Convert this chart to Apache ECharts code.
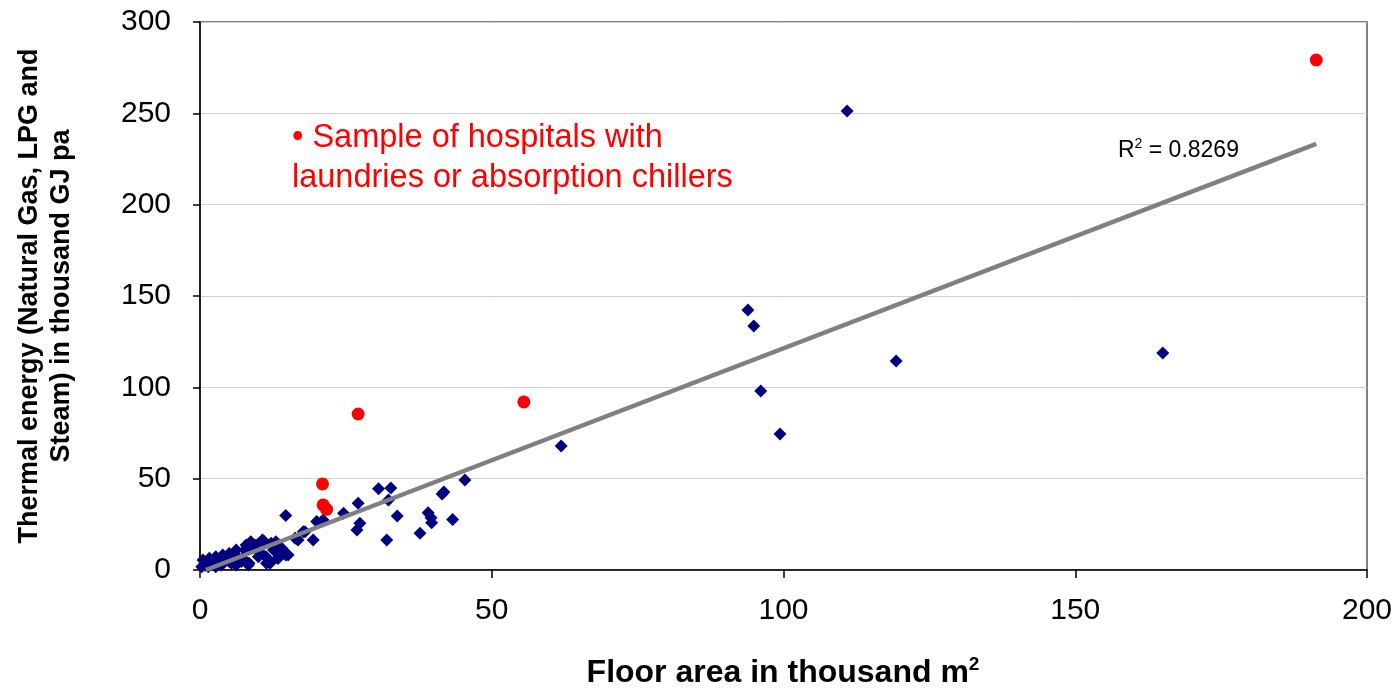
<!DOCTYPE html>
<html>
<head>
<meta charset="utf-8">
<script src="https://cdn.jsdelivr.net/npm/echarts@6/dist/echarts.min.js"></script>
<style>html,body{margin:0;padding:0;background:#fff}#c{width:1397px;height:696px}</style>
</head>
<body>
<div id="c"></div>
<script>
// Floor area (thousand m2), thermal energy (thousand GJ pa)
const hospitalsX = [110.9,165.0,119.3,93.9,94.9,96.1,99.4,61.9,45.4,41.5,41.8,30.6,32.7,32.3,33.8,39.1,39.6,39.7,43.3,37.7,32.0,27.1,24.6,27.4,26.9,20.0,21.1,17.7,19.4,14.7,16.3,16.8,18.0,15.1,13.4,12.0,12.9,12.6,14.0,10.9,8.6,9.4,7.7,6.0,4.9,4.3,3.1,2.0,0.9,0.3,7.1,8.3,10.0,11.4,5.4,3.7,1.4,0.5,1.6,2.7,3.9,5.0,6.2,7.9,8.7,10.7,12.2,13.0,14.2,14.7,11.9,8.4,6.2,2.7,7.3,10.2,9.6,11.3,13.3,5.0,1.0];
const hospitalsY = [251.3,118.8,114.4,142.3,133.6,98.0,74.5,67.9,49.3,41.6,42.7,44.5,44.9,38.3,29.6,31.4,28.6,25.9,27.7,20.1,16.4,36.5,31.0,25.6,21.9,26.5,27.4,21.0,16.4,29.8,17.4,16.4,21.0,8.2,6.4,3.7,14.6,10.9,11.9,15.9,13.7,12.4,10.9,8.2,7.3,5.5,4.6,3.7,2.7,1.8,4.6,2.7,7.3,3.7,3.7,2.7,1.8,5.5,6.4,7.3,8.2,9.1,10.9,13.7,15.5,16.4,14.6,15.5,10.9,8.2,4.6,3.7,2.7,1.8,6.4,10.0,13.7,7.3,6.4,4.6,2.7];
const laundryX = [21.0,21.1,21.7,27.1,55.5,191.3];
const laundryY = [47.1,35.6,33.2,85.4,92.0,279.2];
const trendX = [1.0,191.3];
const trendY = [0.0,233.3];
const xTicks = [0,50,100,150,200];
const yTicks = [0,50,100,150,200,250,300];

const zip = (a,b) => a.map((v,i)=>[v,b[i]]);
const chart = echarts.init(document.getElementById('c'), null, {renderer:'canvas'});
const FONT = '"Liberation Sans", Arial, sans-serif';
chart.setOption({
  animation:false,
  backgroundColor:'#ffffff',
  grid:{left:200,right:30,top:22,bottom:126,show:true,borderColor:'#808080',borderWidth:2,backgroundColor:'transparent'},
  xAxis:{type:'value',min:xTicks[0],max:xTicks[xTicks.length-1],interval:50,
    axisLine:{onZero:false,lineStyle:{color:'#000',width:1.5}},
    axisTick:{show:true,inside:false,length:8,lineStyle:{color:'#000',width:1.5}},
    axisLabel:{margin:26,fontSize:30,color:'#000',fontFamily:FONT},
    splitLine:{show:false}},
  yAxis:{type:'value',min:yTicks[0],max:yTicks[yTicks.length-1],interval:50,
    axisLine:{onZero:false,lineStyle:{color:'#000',width:1.5}},
    axisTick:{show:true,inside:false,length:7,lineStyle:{color:'#000',width:1.5}},
    axisLabel:{margin:29,fontSize:30,color:'#000',fontFamily:FONT},
    splitLine:{show:true,lineStyle:{color:'#d0d0d0',width:1}}},
  series:[
    {type:'scatter',data:zip(hospitalsX,hospitalsY),symbol:'diamond',symbolSize:[13,13],
      itemStyle:{color:'#000080',opacity:1},z:2},
    {type:'line',data:zip(trendX,trendY),showSymbol:false,symbol:'none',
      lineStyle:{color:'#808080',width:4.5},z:3},
    {type:'scatter',data:zip(laundryX,laundryY),symbol:'circle',symbolSize:13,
      itemStyle:{color:'#ff0000',opacity:1},z:4}
  ],
  graphic:[
    {type:'text',left:292,top:118,z:10,style:{text:'• Sample of hospitals with\nlaundries or absorption chillers',
      fill:'#ff0000',font:'32.5px '+FONT,lineHeight:40}},
    {type:'text',left:1118,top:137,z:10,style:{text:'{r|R}{s|2}{r| = 0.8269}',
      rich:{r:{fontSize:23,fontFamily:FONT,fill:'#000',color:'#000',verticalAlign:'bottom'},
            s:{fontSize:14,fontFamily:FONT,fill:'#000',color:'#000',verticalAlign:'top',padding:[0,0,11,0]}}}},
    {type:'text',x:783,y:673,z:10,style:{text:'{t|Floor area in thousand m}{s|2}',align:'center',verticalAlign:'middle',
      rich:{t:{fontSize:32,fontWeight:'bold',fontFamily:FONT,fill:'#000',color:'#000'},
            s:{fontSize:19,fontWeight:'bold',fontFamily:FONT,fill:'#000',color:'#000',padding:[0,0,16,0]}}}},
    {type:'text',x:46,y:296,rotation:Math.PI/2,z:10,style:{text:'Thermal energy (Natural Gas, LPG and\nSteam) in thousand GJ pa',
      align:'center',verticalAlign:'middle',font:'bold 27px '+FONT,fill:'#000',lineHeight:32}}
  ]
});
</script>
</body>
</html>
